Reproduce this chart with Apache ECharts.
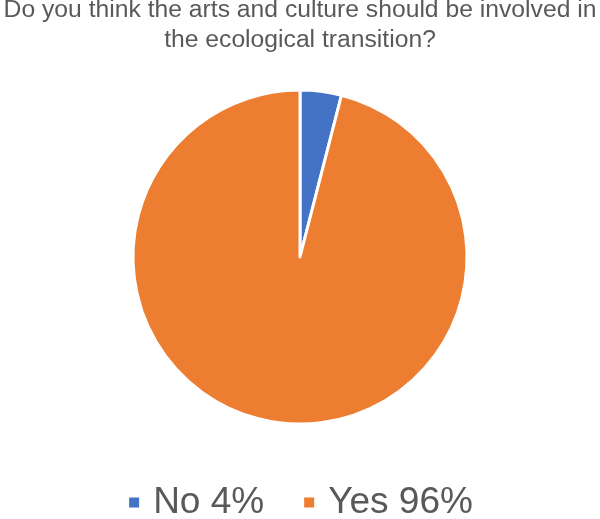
<!DOCTYPE html>
<html lang="en">
<head>
<meta charset="UTF-8">
<title>Arts and ecological transition</title>
<style>
  html, body { margin: 0; padding: 0; background: #fff; }
  #chart { width: 600px; height: 519px; }
</style>
</head>
<body>
<div id="chart"></div>
<script src="https://cdn.jsdelivr.net/npm/echarts@6/dist/echarts.min.js"></script>
<script>
var answers = ['No', 'Yes'];
var shares = [4, 96];
var colors = ['#4472C4', '#ED7D31'];

var chart = echarts.init(document.getElementById('chart'));

var pieData = [];
for (var i = 0; i < answers.length; i++) {
  pieData.push({ name: answers[i], value: shares[i], itemStyle: { color: colors[i] } });
}

var option = {
  animation: false,
  title: {
    text: 'Do you think the arts and culture should be involved in\nthe ecological transition?',
    left: 'center',
    top: -5,
    padding: 0,
    textStyle: {
      fontFamily: 'Liberation Sans',
      fontSize: 24.7,
      fontWeight: 'normal',
      color: '#595959',
      lineHeight: 30
    }
  },
  legend: {
    bottom: -7,
    left: 'center',
    icon: 'rect',
    itemWidth: 12,
    itemHeight: 12,
    itemGap: 38,
    textStyle: {
      fontFamily: 'Liberation Sans',
      fontSize: 37,
      color: '#595959',
      padding: [8, 0, 0, 8]
    },
    formatter: function (name) {
      var idx = answers.indexOf(name);
      return name + ' ' + shares[idx] + '%';
    }
  },
  series: [{
    type: 'pie',
    center: [300, 257],
    radius: 167,
    startAngle: 90,
    clockwise: true,
    label: { show: false },
    labelLine: { show: false },
    itemStyle: { borderColor: '#ffffff', borderWidth: 3 },
    emphasis: { disabled: true },
    data: pieData
  }]
};

chart.setOption(option);
</script>
</body>
</html>
